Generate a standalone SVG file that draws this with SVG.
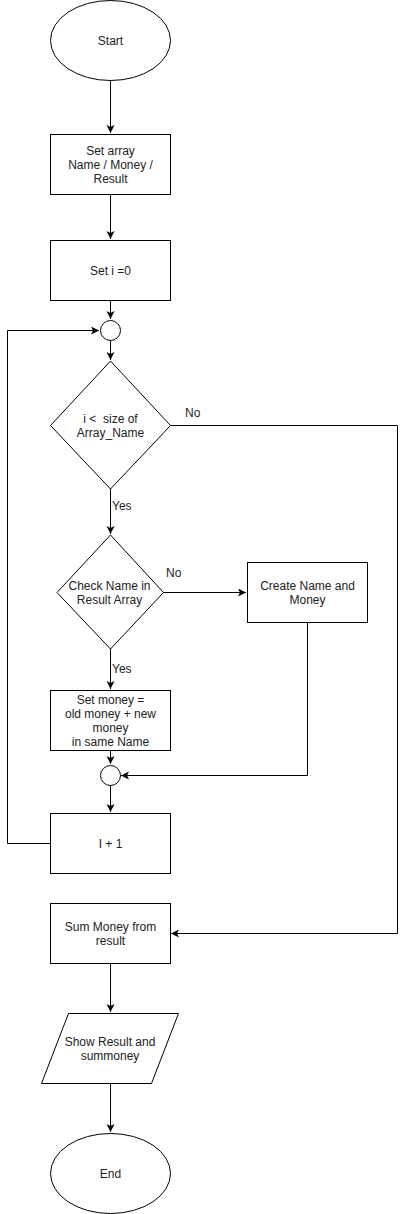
<svg xmlns="http://www.w3.org/2000/svg" width="406" height="1214" viewBox="0 0 406 1214">
<style>
.s{fill:#fff;stroke:#000;stroke-width:1}
.t{font-family:"Liberation Sans",Arial,sans-serif;font-size:12px;fill:#222;text-anchor:middle}
.l{font-family:"Liberation Sans",Arial,sans-serif;font-size:12px;fill:#222}
.c{fill:none;stroke:#000;stroke-width:1;marker-end:url(#a)}
</style>
<defs>
<marker id="a" markerUnits="userSpaceOnUse" markerWidth="10" markerHeight="10" refX="8" refY="4" orient="auto">
<path d="M0,0 L8,4 L0,8 L2,4 Z" fill="#000"/>
</marker>
</defs>
<rect width="406" height="1214" fill="#fff"/>
<g id="connectors">
<path class="c" d="M110.5,80 V133"/>
<path class="c" d="M110.5,194 V239"/>
<path class="c" d="M110.5,300 V319"/>
<path class="c" d="M110.5,340 V360"/>
<path class="c" d="M110.5,489 V534"/>
<path class="c" d="M163,592.5 H246"/>
<path class="c" d="M110.5,649 V689"/>
<path class="c" d="M110.5,750 V764"/>
<path class="c" d="M110.5,785 V812"/>
<path class="c" d="M307.5,622 V775.5 H121"/>
<path class="c" d="M50,843.5 H7.5 V330.5 H99"/>
<path class="c" d="M170,425.5 H397.5 V933.5 H171"/>
<path class="c" d="M110.5,963 V1012"/>
<path class="c" d="M110.5,1083 V1132"/>
<text class="l" x="185" y="417">No</text>
<text class="l" x="112" y="510">Yes</text>
<text class="l" x="166" y="577">No</text>
<text class="l" x="112" y="673">Yes</text>
</g>
<g id="start">
<ellipse class="s" cx="110.5" cy="40.5" rx="60" ry="40"/>
<text class="t" x="110.5" y="45">Start</text>
</g>
<g id="setArray">
<rect class="s" x="50.5" y="134.5" width="120" height="60"/>
<text class="t" x="110.5" y="155">Set array</text>
<text class="t" x="110.5" y="169">Name / Money /</text>
<text class="t" x="110.5" y="183">Result</text>
</g>
<g id="setI">
<rect class="s" x="50.5" y="240.5" width="120" height="60"/>
<text class="t" x="110.5" y="275">Set i =0</text>
</g>
<g id="join1">
<circle class="s" cx="110.5" cy="330.5" r="10"/>
</g>
<g id="cond1">
<polygon class="s" points="110.5,361 170.5,425.5 110.5,489 50.5,425.5"/>
<text class="t" x="110.5" y="423" xml:space="preserve">i &lt;  size of</text>
<text class="t" x="110.5" y="437">Array_Name</text>
</g>
<g id="cond2">
<polygon class="s" points="110.5,535 163.5,592.5 110.5,649 57,592.5"/>
<text class="t" x="109.5" y="590">Check Name in</text>
<text class="t" x="109.5" y="604">Result Array</text>
</g>
<g id="create">
<rect class="s" x="247.5" y="562.5" width="120" height="60"/>
<text class="t" x="307.5" y="590">Create Name and</text>
<text class="t" x="307.5" y="604">Money</text>
</g>
<g id="setMoney">
<rect class="s" x="50.5" y="690.5" width="120" height="60"/>
<text class="t" x="110.5" y="704">Set money =</text>
<text class="t" x="110.5" y="718">old money + new</text>
<text class="t" x="110.5" y="732">money</text>
<text class="t" x="110.5" y="746">in same Name</text>
</g>
<g id="join2">
<circle class="s" cx="110.5" cy="775.5" r="10"/>
</g>
<g id="inc">
<rect class="s" x="50.5" y="813.5" width="120" height="60"/>
<text class="t" x="110.5" y="848">I + 1</text>
</g>
<g id="sum">
<rect class="s" x="50.5" y="903.5" width="120" height="60"/>
<text class="t" x="110.5" y="931">Sum Money from</text>
<text class="t" x="110.5" y="945">result</text>
</g>
<g id="show">
<polygon class="s" points="68.5,1013.5 178.5,1013.5 151.5,1083.5 41.5,1083.5"/>
<text class="t" x="110" y="1046">Show Result and</text>
<text class="t" x="110" y="1060">summoney</text>
</g>
<g id="end">
<ellipse class="s" cx="110.5" cy="1173.5" rx="60" ry="40"/>
<text class="t" x="110.5" y="1178">End</text>
</g>
</svg>
